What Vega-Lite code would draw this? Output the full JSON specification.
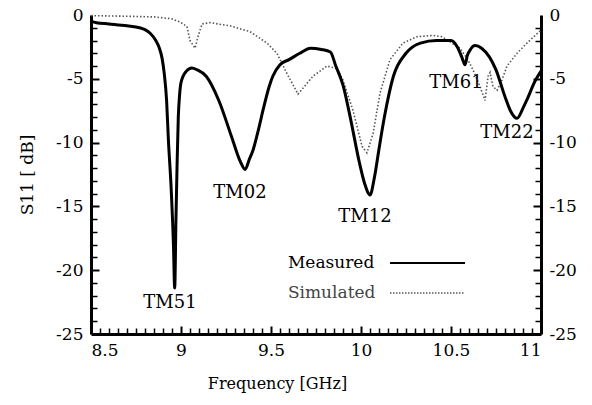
{
  "$schema": "https://vega.github.io/schema/vega-lite/v6.json",
  "width": 450,
  "height": 319,
  "autosize": {"type": "none"},
  "padding": {"left": 91, "top": 15, "right": 51, "bottom": 71},
  "background": "white",
  "config": {
    "view": {"stroke": null},
    "font": "DejaVu Serif",
    "axis": {
      "domainColor": "black",
      "domainWidth": 3,
      "tickColor": "black",
      "grid": false,
      "labelColor": "black",
      "titleColor": "black",
      "labelFont": "DejaVu Serif",
      "titleFont": "DejaVu Serif"
    }
  },
  "datasets": {
    "measured": [
      {"f": 8.5, "s": -0.5}, {"f": 8.53, "s": -0.6}, {"f": 8.6, "s": -0.7}, {"f": 8.7, "s": -0.85},
      {"f": 8.77, "s": -1.0}, {"f": 8.8, "s": -1.15}, {"f": 8.83, "s": -1.45}, {"f": 8.86, "s": -2.0}, {"f": 8.88, "s": -2.6}, {"f": 8.895, "s": -3.4},
      {"f": 8.907, "s": -4.6}, {"f": 8.92, "s": -6.7}, {"f": 8.93, "s": -9.8}, {"f": 8.945, "s": -13.5},
      {"f": 8.958, "s": -18}, {"f": 8.965, "s": -21.4}, {"f": 8.972, "s": -16}, {"f": 8.978, "s": -11.9},
      {"f": 8.985, "s": -8.0}, {"f": 8.992, "s": -6.3}, {"f": 9.0, "s": -5.3}, {"f": 9.03, "s": -4.4},
      {"f": 9.06, "s": -4.15}, {"f": 9.09, "s": -4.3}, {"f": 9.14, "s": -4.8}, {"f": 9.21, "s": -6.7},
      {"f": 9.28, "s": -9.5}, {"f": 9.33, "s": -11.5}, {"f": 9.356, "s": -12.1}, {"f": 9.38, "s": -11.3},
      {"f": 9.4, "s": -10.6}, {"f": 9.43, "s": -9.0}, {"f": 9.46, "s": -7.2}, {"f": 9.49, "s": -5.6},
      {"f": 9.51, "s": -4.8}, {"f": 9.55, "s": -3.9}, {"f": 9.6, "s": -3.5}, {"f": 9.66, "s": -3.0},
      {"f": 9.72, "s": -2.6}, {"f": 9.78, "s": -2.7}, {"f": 9.83, "s": -2.9}, {"f": 9.86, "s": -4.0},
      {"f": 9.9, "s": -5.5}, {"f": 9.94, "s": -8.0}, {"f": 9.99, "s": -11.5}, {"f": 10.02, "s": -13.2},
      {"f": 10.05, "s": -14.1}, {"f": 10.075, "s": -12.7}, {"f": 10.1, "s": -10.5}, {"f": 10.13, "s": -8.0},
      {"f": 10.18, "s": -4.8}, {"f": 10.25, "s": -3.0}, {"f": 10.33, "s": -2.2}, {"f": 10.42, "s": -2.0},
      {"f": 10.5, "s": -2.0}, {"f": 10.535, "s": -2.5}, {"f": 10.56, "s": -3.3}, {"f": 10.578, "s": -3.9},
      {"f": 10.59, "s": -3.2}, {"f": 10.606, "s": -2.75}, {"f": 10.633, "s": -2.4}, {"f": 10.67, "s": -2.6},
      {"f": 10.75, "s": -4.3}, {"f": 10.8, "s": -6.4}, {"f": 10.83, "s": -7.5}, {"f": 10.867, "s": -8.1},
      {"f": 10.9, "s": -7.3}, {"f": 10.92, "s": -6.7}, {"f": 10.97, "s": -5.1}, {"f": 11.0, "s": -4.4}
    ],
    "simulated": [
      {"f": 8.5, "s": -0.05}, {"f": 8.7, "s": -0.1}, {"f": 8.85, "s": -0.15}, {"f": 8.95, "s": -0.3},
      {"f": 8.994, "s": -0.55}, {"f": 9.033, "s": -0.9}, {"f": 9.05, "s": -2.0}, {"f": 9.078, "s": -2.6},
      {"f": 9.094, "s": -1.7}, {"f": 9.117, "s": -0.7}, {"f": 9.161, "s": -0.6}, {"f": 9.272, "s": -0.85},
      {"f": 9.383, "s": -1.3}, {"f": 9.478, "s": -2.2}, {"f": 9.533, "s": -3.0}, {"f": 9.589, "s": -4.6},
      {"f": 9.65, "s": -6.2}, {"f": 9.733, "s": -4.8}, {"f": 9.811, "s": -4.0}, {"f": 9.867, "s": -4.2},
      {"f": 9.9, "s": -5.1}, {"f": 9.956, "s": -7.5}, {"f": 10.006, "s": -10.3}, {"f": 10.033, "s": -10.8},
      {"f": 10.067, "s": -9.3}, {"f": 10.106, "s": -6.1}, {"f": 10.161, "s": -3.5}, {"f": 10.233, "s": -2.2},
      {"f": 10.311, "s": -1.7}, {"f": 10.4, "s": -1.6}, {"f": 10.45, "s": -1.7}, {"f": 10.55, "s": -2.6},
      {"f": 10.594, "s": -3.5}, {"f": 10.622, "s": -4.3}, {"f": 10.661, "s": -5.6}, {"f": 10.689, "s": -6.7},
      {"f": 10.706, "s": -4.8}, {"f": 10.717, "s": -4.5}, {"f": 10.733, "s": -5.6}, {"f": 10.756, "s": -5.9},
      {"f": 10.783, "s": -5.1}, {"f": 10.811, "s": -4.0}, {"f": 10.867, "s": -3.0}, {"f": 10.922, "s": -2.2},
      {"f": 10.983, "s": -1.4}, {"f": 11.0, "s": -1.2}
    ],
    "labels": [
      {"f": 8.939, "s": -22.57, "t": "TM51"},
      {"f": 9.328, "s": -13.95, "t": "TM02"},
      {"f": 10.022, "s": -15.83, "t": "TM12"},
      {"f": 10.528, "s": -5.33, "t": "TM61"},
      {"f": 10.811, "s": -9.25, "t": "TM22"}
    ],
    "legend": [
      {"f": 9.594, "s": -19.44, "f1": 10.161, "f2": 10.578, "t": "Measured"},
      {"f": 9.594, "s": -21.79, "f1": 10.161, "f2": 10.578, "t": "Simulated"}
    ]
  },
  "resolve": {"axis": {"x": "independent", "y": "independent"}},
  "layer": [
    {
      "data": {"name": "simulated"},
      "mark": {"type": "line", "color": "#555", "strokeWidth": 1.6, "strokeDash": [1.5, 2]},
      "encoding": {
        "x": {"field": "f", "type": "quantitative", "scale": {"domain": [8.5, 11], "nice": false, "zero": false},
              "axis": {"orient": "bottom", "values": [8.5, 9, 9.5, 10, 10.5, 11], "labelExpr": "'' + datum.value", "ticks": false,
                       "labelFontSize": 17, "titleFontSize": 16, "titleFontWeight": "normal",
                       "labelPadding": 8, "title": "Frequency [GHz]", "titleX": 186, "titleY": 54, "titleBaseline": "alphabetic"}},
        "y": {"field": "s", "type": "quantitative", "scale": {"domain": [-25, 0], "nice": false, "zero": false},
              "axis": {"orient": "right", "values": [0, -5, -10, -15, -20, -25], "ticks": false, "labelExpr": "'' + datum.value",
                       "labelFontSize": 17, "labelPadding": 8, "labelAlign": "left", "title": null}}
      }
    },
    {
      "data": {"name": "measured"},
      "mark": {"type": "line", "color": "black", "strokeWidth": 3, "interpolate": "monotone"},
      "encoding": {
        "x": {"field": "f", "type": "quantitative",
              "axis": {"orient": "bottom", "offset": -6, "domain": false, "labels": false, "title": null, "ticks": true, "zindex": 2,
                       "tickOpacity": 1, "tickWidth": 1.5, "tickColor": "black", "tickSize": 6,
                       "values": [8.55,8.6,8.65,8.7,8.75,8.8,8.85,8.9,8.95,9.05,9.1,9.15,9.2,9.25,9.3,9.35,9.4,9.45,9.55,9.6,9.65,9.7,9.75,9.8,9.85,9.9,9.95,10.05,10.1,10.15,10.2,10.25,10.3,10.35,10.4,10.45,10.55,10.6,10.65,10.7,10.75,10.8,10.85,10.9,10.95]}},
        "y": {"field": "s", "type": "quantitative",
              "axis": {"orient": "left", "values": [0, -5, -10, -15, -20, -25], "ticks": false, "labelExpr": "'' + datum.value",
                       "labelFontSize": 17, "titleFontSize": 17, "titleFontWeight": "normal",
                       "labelPadding": 8, "title": "S11 [ dB]", "titlePadding": 19}}
      }
    },
    {
      "data": {"name": "labels"},
      "mark": {"type": "text", "fontSize": 18, "color": "black", "align": "center", "baseline": "middle"},
      "encoding": {
        "x": {"field": "f", "type": "quantitative",
              "axis": {"orient": "bottom", "offset": -8, "domain": false, "labels": false, "title": null, "ticks": true, "zindex": 2,
                       "tickOpacity": 1, "tickWidth": 2, "tickColor": "black", "tickSize": 8,
                       "values": [9, 9.5, 10, 10.5]}},
        "y": {"field": "s", "type": "quantitative",
              "axis": {"orient": "left", "offset": -6, "domain": false, "labels": false, "title": null, "ticks": true, "zindex": 2,
                       "tickOpacity": 1, "tickWidth": 1.5, "tickColor": "black", "tickSize": 6,
                       "values": [-1,-2,-3,-4,-6,-7,-8,-9,-11,-12,-13,-14,-16,-17,-18,-19,-21,-22,-23,-24]}},
        "text": {"field": "t"}
      }
    },
    {
      "data": {"name": "legend"},
      "mark": {"type": "text", "fontSize": 17, "align": "left", "baseline": "middle"},
      "encoding": {
        "x": {"field": "f", "type": "quantitative", "axis": null},
        "y": {"field": "s", "type": "quantitative",
              "axis": {"orient": "right", "offset": -6, "domain": false, "labels": false, "title": null, "ticks": true, "zindex": 2,
                       "tickOpacity": 1, "tickWidth": 1.5, "tickColor": "black", "tickSize": 6,
                       "values": [-1,-2,-3,-4,-6,-7,-8,-9,-11,-12,-13,-14,-16,-17,-18,-19,-21,-22,-23,-24]}},
        "text": {"field": "t"},
        "color": {"condition": {"test": "datum.t === 'Simulated'", "value": "#444"}, "value": "black"}
      }
    },
    {
      "data": {"name": "legend"},
      "transform": [{"filter": "datum.t === 'Measured'"}],
      "mark": {"type": "rule", "color": "black", "strokeWidth": 2},
      "encoding": {
        "x": {"field": "f1", "type": "quantitative", "axis": null},
        "x2": {"field": "f2"},
        "y": {"field": "s", "type": "quantitative",
              "axis": {"orient": "left", "offset": -8, "domain": false, "labels": false, "title": null, "ticks": true, "zindex": 2,
                       "tickOpacity": 1, "tickWidth": 2, "tickColor": "black", "tickSize": 8,
                       "values": [-5, -10, -15, -20]}}
      }
    },
    {
      "data": {"name": "legend"},
      "transform": [{"filter": "datum.t === 'Simulated'"}],
      "mark": {"type": "rule", "color": "#555", "strokeWidth": 1.5, "strokeDash": [1.5, 1.5]},
      "encoding": {
        "x": {"field": "f1", "type": "quantitative", "axis": null},
        "x2": {"field": "f2"},
        "y": {"field": "s", "type": "quantitative",
              "axis": {"orient": "right", "offset": -8, "domain": false, "labels": false, "title": null, "ticks": true, "zindex": 2,
                       "tickOpacity": 1, "tickWidth": 2, "tickColor": "black", "tickSize": 8,
                       "values": [-5, -10, -15, -20]}}
      }
    }
  ]
}
